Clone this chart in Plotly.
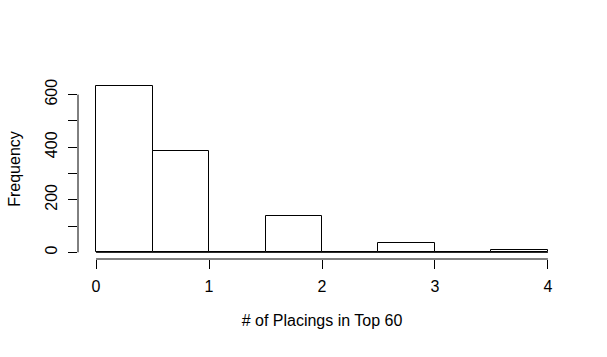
import plotly.graph_objects as go

# Data: histogram bins (edges) and counts
bin_edges = [0.0, 0.5, 1.0, 1.5, 2.0, 2.5, 3.0, 3.5, 4.0]
counts = [634, 387, 0, 138, 0, 34, 0, 8]
x_ticks = [0, 1, 2, 3, 4]
y_ticks = [0, 100, 200, 300, 400, 500, 600]
y_tick_labels = ["0", "", "200", "", "400", "", "600"]
x_title = "# of Placings in Top 60"
y_title = "Frequency"

mids = [(bin_edges[i] + bin_edges[i + 1]) / 2 for i in range(len(counts))]
widths = [bin_edges[i + 1] - bin_edges[i] for i in range(len(counts))]

xspan = bin_edges[-1] - bin_edges[0]
xr = [bin_edges[0] - 0.04 * xspan, bin_edges[-1] + 0.04 * xspan]
ymax = max(counts)
yr = [-0.04 * ymax, ymax * 1.04]

FAMILY = "Arial, Liberation Sans, sans-serif"


def f(size=16):
    return dict(family=FAMILY, size=size, color="black")


fig = go.Figure()
fig.add_trace(go.Bar(
    x=mids, y=counts, width=widths,
    marker=dict(color="white", line=dict(color="black", width=1)),
    hoverinfo="x+y",
))

shapes = [
    dict(type="line", xref="x", yref="y", x0=bin_edges[0], x1=bin_edges[-1], y0=0, y1=0,
         line=dict(color="black", width=1)),
    dict(type="line", xref="x", yref="paper", x0=x_ticks[0], x1=x_ticks[-1], y0=0, y1=0,
         line=dict(color="black", width=1)),
    dict(type="line", xref="paper", yref="y", x0=0, x1=0, y0=y_ticks[0], y1=y_ticks[-1],
         line=dict(color="black", width=1)),
]

fig.update_layout(
    width=607, height=357,
    margin=dict(l=78, r=41, t=79, b=98),
    paper_bgcolor="white", plot_bgcolor="white",
    font=f(16),
    showlegend=False,
    bargap=0,
    shapes=shapes,
)
fig.update_xaxes(
    range=xr, tickvals=x_ticks, ticktext=[str(v) for v in x_ticks],
    ticks="outside", ticklen=9, tickcolor="black", tickwidth=1,
    tickfont=f(16),
    showgrid=False, zeroline=False, showline=False,
    title_text=x_title, title_font=f(16), title_standoff=20,
    ticklabelstandoff=4,
)
fig.update_yaxes(
    range=yr, tickvals=y_ticks, ticktext=y_tick_labels,
    ticks="outside", ticklen=9, tickcolor="black", tickwidth=1,
    tickfont=f(16),
    showgrid=False, zeroline=False, showline=False,
    tickangle=-90,
    title_text=y_title, title_font=f(16), title_standoff=17,
    ticklabelstandoff=5,
)

fig.write_html("out.html")
